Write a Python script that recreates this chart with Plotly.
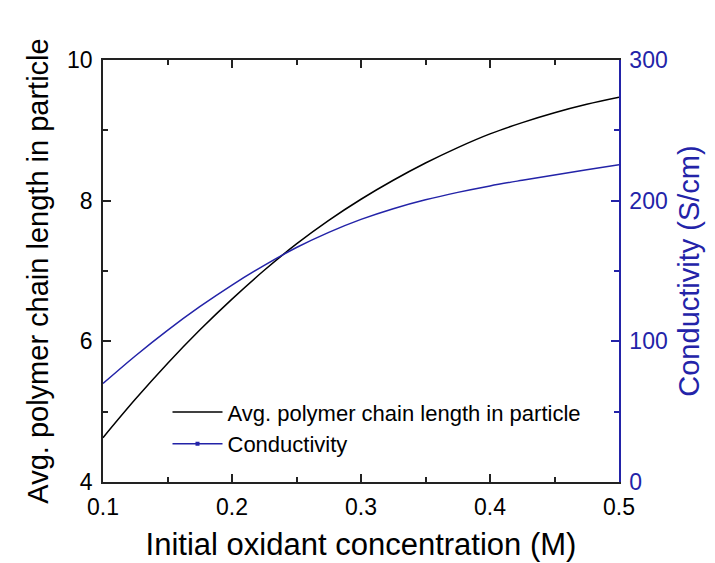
import plotly.graph_objects as go

conc = [0.10, 0.125, 0.15, 0.175, 0.20, 0.225, 0.25, 0.275, 0.30, 0.325, 0.35, 0.375, 0.40, 0.425, 0.45, 0.475, 0.50]
chain_len = [4.63, 5.175, 5.685, 6.16, 6.60, 7.01, 7.385, 7.72, 8.02, 8.29, 8.535, 8.755, 8.95, 9.11, 9.25, 9.37, 9.47]
conductivity = [70, 89.6, 107.8, 124.6, 140.0, 154.0, 166.7, 177.5, 186.7, 194.3, 200.6, 205.9, 210.5, 214.5, 218.3, 222.0, 225.5]

name_chain = "Avg. polymer chain length in particle"
name_cond = "Conductivity"
BLUE = "#2323a8"
AX = "#222222"
FONT = "Liberation Sans, Arial, sans-serif"

fig = go.Figure()
fig.add_trace(go.Scatter(x=conc, y=chain_len, mode="lines", name=name_chain,
                         line=dict(color="black", width=1.5, shape="spline"), yaxis="y"))
fig.add_trace(go.Scatter(x=conc, y=conductivity, mode="lines", name=name_cond, showlegend=False,
                         line=dict(color=BLUE, width=1.5, shape="spline"), yaxis="y2"))
fig.add_trace(go.Scatter(x=[None], y=[None], mode="lines+markers", name=name_cond,
                         line=dict(color=BLUE, width=1.5), marker=dict(size=4, color=BLUE, symbol="square"),
                         yaxis="y2"))

fig.update_layout(
    width=715, height=563,
    margin=dict(l=103, r=96, t=60, b=81),
    paper_bgcolor="white", plot_bgcolor="white",
    font=dict(family=FONT, color="black"),
    showlegend=True,
    legend=dict(x=0.125, y=0.215, xanchor="left", yanchor="top", bgcolor="rgba(0,0,0,0)",
                font=dict(size=22, family=FONT), tracegroupgap=0, itemwidth=50),
    xaxis=dict(range=[0.1, 0.5], tickvals=[0.1, 0.2, 0.3, 0.4, 0.5],
               ticktext=["0.1", "0.2", "0.3", "0.4", "0.5"], automargin=False,
               ticks="inside", ticklen=8, tickwidth=1.5, tickcolor=AX,
               minor=dict(ticks="inside", ticklen=5, tickwidth=1.5, dtick=0.05, tickcolor=AX),
               showline=True, linecolor=AX, linewidth=1.5, mirror="ticks",
               showgrid=False, zeroline=False, ticklabelstandoff=4,
               tickfont=dict(size=23, family=FONT, color="black"),
               title=dict(text="Initial oxidant concentration (M)", font=dict(size=31, family=FONT), standoff=14)),
    yaxis=dict(range=[4, 10], tickvals=[4, 6, 8, 10], ticks="inside", ticklen=8, tickwidth=1.5, tickcolor=AX,
               minor=dict(ticks="inside", ticklen=5, tickwidth=1.5, dtick=1, tickcolor=AX),
               showline=True, linecolor=AX, linewidth=1.5, automargin=False,
               showgrid=False, zeroline=False, ticklabelstandoff=4,
               tickfont=dict(size=23, family=FONT, color="black"),
               title=dict(text=name_chain, font=dict(size=29, family=FONT), standoff=10)),
    yaxis2=dict(range=[0, 300], tickvals=[0, 100, 200, 300], overlaying="y", side="right",
                ticks="inside", ticklen=8, tickwidth=1.5, tickcolor=BLUE, automargin=False,
                minor=dict(ticks="inside", ticklen=5, tickwidth=1.5, dtick=50, tickcolor=BLUE),
                showline=True, linecolor=BLUE, linewidth=1.5,
                showgrid=False, zeroline=False, ticklabelstandoff=4,
                tickfont=dict(size=23, family=FONT, color=BLUE),
                title=dict(text="Conductivity (S/cm)", font=dict(size=29, family=FONT, color=BLUE), standoff=12)),
)

fig.write_html("out.html")
